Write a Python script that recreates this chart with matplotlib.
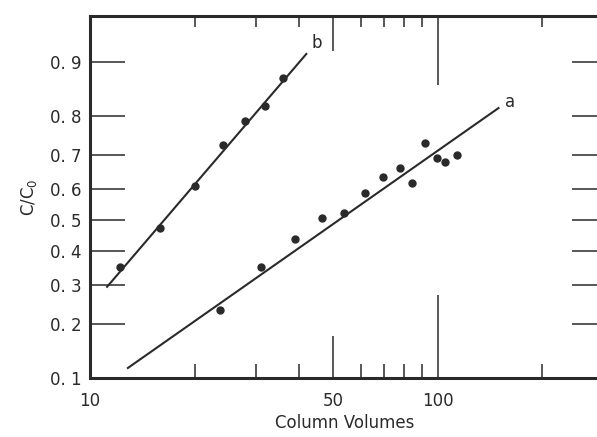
from statistics import NormalDist
import numpy as np
import matplotlib
matplotlib.use("Agg")
import matplotlib.pyplot as plt
from matplotlib.ticker import FixedLocator, NullLocator, NullFormatter

plt.rcParams['font.family'] = ['Liberation Sans Narrow', 'DejaVu Sans']

# measured points, curve b
b_vol = [12.2, 15.9, 20.0, 24.1, 28.0, 31.8, 36.0]
b_conc = [0.352, 0.473, 0.610, 0.729, 0.790, 0.822, 0.876]
# fitted line b (end points)
b_fit_vol = [11.2, 41.9]
b_fit_conc = [0.294, 0.911]

# measured points, curve a
a_vol = [23.7, 31.1, 38.9, 46.4, 53.9, 61.9, 69.6, 77.7, 84.3, 91.9, 99.8, 104.9, 113.9]
a_conc = [0.232, 0.352, 0.440, 0.506, 0.524, 0.586, 0.635, 0.664, 0.619, 0.733, 0.692,
          0.682, 0.701]
# fitted line a (end points)
a_fit_vol = [12.85, 149.6]
a_fit_conc = [0.115, 0.818]

y_ticks = [0.1, 0.2, 0.3, 0.4, 0.5, 0.6, 0.7, 0.8, 0.9]
y_labels = ['0. 1', '0. 2', '0. 3', '0. 4', '0. 5', '0. 6', '0. 7', '0. 8', '0. 9']
x_major = [10, 50, 100]
x_minor = [20, 30, 40, 60, 70, 80, 90, 200]

_nd = NormalDist()
_ppf = np.vectorize(lambda p: _nd.inv_cdf(min(max(p, 1e-9), 1 - 1e-9)), otypes=[float])
_cdf = np.vectorize(lambda z: _nd.cdf(z), otypes=[float])


def probit(p):
    return _ppf(np.asarray(p, dtype=float))


def inv_probit(z):
    return _cdf(np.asarray(z, dtype=float))


ink = '#2a2a2a'

fig = plt.figure(figsize=(5.97, 4.37), dpi=100)
ax = fig.add_axes([90 / 597, 59 / 437, 510 / 597, 362 / 437])

ax.set_xscale('log')
ax.set_yscale('function', functions=(probit, inv_probit))
ax.set_xlim(10, 293)
ax.set_ylim(0.1, 0.951)

ax.plot(b_fit_vol, b_fit_conc, color=ink, lw=1.5)
ax.plot(a_fit_vol, a_fit_conc, color=ink, lw=1.5)
ax.plot(b_vol, b_conc, 'o', color=ink, ms=5)
ax.plot(a_vol, a_conc, 'o', color=ink, ms=5)

ax.annotate('b', (b_fit_vol[1], b_fit_conc[1]), xytext=(4, 4), textcoords='offset points',
            fontsize=12, color=ink)
ax.annotate('a', (a_fit_vol[1], a_fit_conc[1]), xytext=(5, 1), textcoords='offset points',
            fontsize=12, color=ink)

# axes ticks
ax.xaxis.set_major_locator(FixedLocator(x_major))
ax.xaxis.set_minor_locator(FixedLocator(x_minor))
ax.xaxis.set_minor_formatter(NullFormatter())
ax.set_xticklabels(['10', '50', '100'])
ax.yaxis.set_major_locator(FixedLocator(y_ticks))
ax.yaxis.set_minor_locator(NullLocator())
ax.set_yticklabels(y_labels)

ax.tick_params(axis='both', which='both', direction='in', top=True, right=True,
               color=ink, width=1.1, labelsize=12, labelcolor=ink)
ax.tick_params(axis='x', which='minor', length=10)
ax.tick_params(axis='x', which='major', length=30, pad=10)
ax.tick_params(axis='y', which='major', length=25, pad=6)

for t in ax.xaxis.get_major_ticks():
    t.tick2line.set_markersize(25)
xt = ax.xaxis.get_major_ticks()
xt[0].tick1line.set_markersize(0)
xt[0].tick2line.set_markersize(0)
xt[2].tick1line.set_markersize(60)
xt[2].tick2line.set_markersize(50)
for t in ax.xaxis.get_minor_ticks():
    t.tick2line.set_markersize(8)
for t in ax.yaxis.get_major_ticks():
    t.tick2line.set_markersize(20)
ax.yaxis.get_major_ticks()[0].tick1line.set_markersize(0)

for side in ['left', 'bottom', 'top', 'right']:
    ax.spines[side].set_linewidth(2.2)
    ax.spines[side].set_color(ink)

ax.set_xlabel('Column Volumes', fontsize=12, color=ink, labelpad=3)
ax.set_ylabel(r'$\mathregular{C/C_0}$', fontsize=12, color=ink, labelpad=8)

fig.savefig('out.png', dpi=100)
